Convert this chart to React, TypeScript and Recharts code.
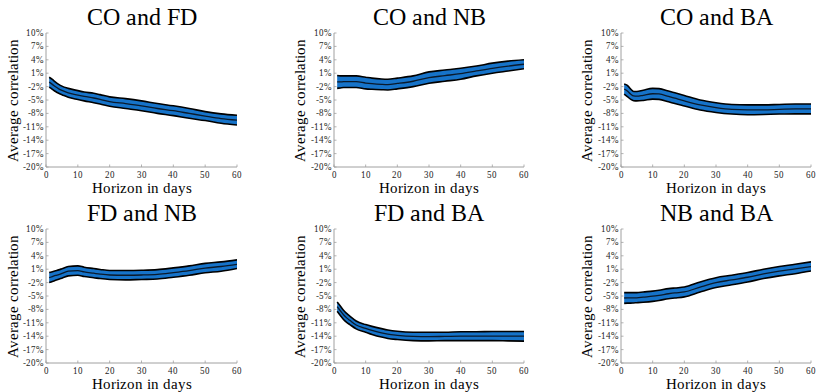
import React from "react";
import { ComposedChart, Area, Line, XAxis, YAxis } from "recharts";

const DAYS = [1, 2, 3, 4, 5, 7, 10, 12, 15, 17, 20, 25, 30, 35, 40, 45, 50, 55, 60];
const X_TICKS = [0, 10, 20, 30, 40, 50, 60];
const Y_TICKS = [-20, -17, -14, -11, -8, -5, -2, 1, 4, 7, 10];

// CO and FD
const CO_FD_UPPER = [0.1, -0.4, -1.0, -1.5, -1.9, -2.4, -2.9, -3.2, -3.5, -3.8, -4.3, -4.7, -5.2, -5.8, -6.3, -6.9, -7.6, -8.1, -8.4];
const CO_FD_MID = [-1.0, -1.5, -2.05, -2.5, -2.85, -3.4, -3.9, -4.2, -4.55, -4.85, -5.35, -5.8, -6.3, -6.9, -7.4, -8.0, -8.6, -9.15, -9.5];
const CO_FD_LOWER = [-2.1, -2.6, -3.1, -3.5, -3.8, -4.4, -4.9, -5.2, -5.6, -5.9, -6.4, -6.9, -7.4, -8.0, -8.5, -9.1, -9.6, -10.2, -10.6];

// CO and NB
const CO_NB_UPPER = [0.5, 0.4, 0.4, 0.4, 0.4, 0.4, 0.1, -0.1, -0.3, -0.35, -0.1, 0.4, 1.3, 1.7, 2.1, 2.6, 3.25, 3.7, 4.0];
const CO_NB_MID = [-0.95, -0.95, -0.9, -0.9, -0.9, -0.9, -1.2, -1.35, -1.5, -1.55, -1.3, -0.8, 0.0, 0.45, 0.9, 1.5, 2.1, 2.6, 3.0];
const CO_NB_LOWER = [-2.4, -2.3, -2.2, -2.2, -2.2, -2.2, -2.5, -2.6, -2.7, -2.75, -2.5, -2.0, -1.25, -0.8, -0.35, 0.4, 1.0, 1.5, 2.0];

// CO and BA
const CO_BA_UPPER = [-1.4, -1.7, -2.5, -3.1, -3.1, -2.8, -2.4, -2.45, -3.0, -3.4, -4.0, -5.0, -5.6, -6.0, -6.1, -6.1, -6.0, -5.9, -5.9];
const CO_BA_MID = [-2.55, -3.0, -3.65, -4.1, -4.15, -3.95, -3.6, -3.65, -4.2, -4.6, -5.2, -6.1, -6.7, -7.1, -7.2, -7.2, -7.1, -7.0, -7.0];
const CO_BA_LOWER = [-3.7, -4.25, -4.8, -5.15, -5.2, -5.1, -4.8, -4.85, -5.4, -5.8, -6.35, -7.25, -7.8, -8.15, -8.3, -8.25, -8.15, -8.1, -8.1];

// FD and NB
const FD_NB_UPPER = [0.25, 0.45, 0.65, 0.85, 1.1, 1.6, 1.75, 1.45, 1.15, 0.95, 0.7, 0.7, 0.75, 0.9, 1.3, 1.75, 2.3, 2.65, 3.1];
const FD_NB_MID = [-0.9, -0.65, -0.4, -0.2, 0.05, 0.55, 0.7, 0.4, 0.1, -0.1, -0.3, -0.35, -0.3, -0.15, 0.25, 0.7, 1.25, 1.6, 2.1];
const FD_NB_LOWER = [-2.0, -1.75, -1.5, -1.25, -1.0, -0.5, -0.35, -0.65, -0.9, -1.1, -1.3, -1.4, -1.3, -1.2, -0.8, -0.35, 0.2, 0.55, 1.15];

// FD and BA
const FD_BA_UPPER = [-6.35, -7.25, -8.2, -8.9, -9.5, -10.6, -11.4, -11.8, -12.3, -12.6, -12.9, -13.1, -13.1, -13.1, -13.0, -13.0, -12.95, -12.95, -12.95];
const FD_BA_MID = [-7.4, -8.3, -9.2, -9.9, -10.45, -11.5, -12.25, -12.7, -13.25, -13.55, -13.8, -14.05, -14.1, -14.05, -14.0, -14.0, -14.0, -14.0, -14.0];
const FD_BA_LOWER = [-8.4, -9.35, -10.25, -10.9, -11.4, -12.35, -13.1, -13.6, -14.2, -14.5, -14.75, -15.0, -15.05, -15.0, -15.0, -15.0, -15.0, -15.05, -15.1];

// NB and BA
const NB_BA_UPPER = [-4.25, -4.25, -4.25, -4.25, -4.25, -4.1, -3.9, -3.7, -3.35, -3.2, -3.0, -1.85, -0.9, -0.35, 0.25, 1.0, 1.6, 2.1, 2.65];
const NB_BA_MID = [-5.45, -5.4, -5.4, -5.4, -5.4, -5.25, -5.05, -4.85, -4.5, -4.3, -4.1, -3.0, -2.0, -1.4, -0.8, -0.05, 0.55, 1.05, 1.6];
const NB_BA_LOWER = [-6.65, -6.6, -6.6, -6.55, -6.5, -6.4, -6.2, -6.0, -5.6, -5.45, -5.2, -4.1, -3.1, -2.5, -1.85, -1.1, -0.5, 0.0, 0.6];

const PANELS = [
  { title: "CO and FD", upper: CO_FD_UPPER, mid: CO_FD_MID, lower: CO_FD_LOWER },
  { title: "CO and NB", upper: CO_NB_UPPER, mid: CO_NB_MID, lower: CO_NB_LOWER },
  { title: "CO and BA", upper: CO_BA_UPPER, mid: CO_BA_MID, lower: CO_BA_LOWER },
  { title: "FD and NB", upper: FD_NB_UPPER, mid: FD_NB_MID, lower: FD_NB_LOWER },
  { title: "FD and BA", upper: FD_BA_UPPER, mid: FD_BA_MID, lower: FD_BA_LOWER },
  { title: "NB and BA", upper: NB_BA_UPPER, mid: NB_BA_MID, lower: NB_BA_LOWER },
];

// font face alias pointing at the locally installed serif
const FONT_CSS = `
@font-face { font-family: "PlotSerif"; src: local("Liberation Serif"), local("LiberationSerif-Regular"), local("LiberationSerif"); }
.plot-text { font-family: "PlotSerif", "Liberation Serif", serif; }
`;

const AXIS = "#a0a0a0";
const TICK_TEXT = "#262626";
const BAND = "#1673c9";

const PW = 272;
const PH = 196;
const COL_X = [0, 272, 544];
const ROW_Y = [0, 196];
const PLOT_LEFT = [46, 62, 77];
const PLOT_RIGHT = [237, 252, 267];
const YLABEL_X = [13, 28, 43];
const PLOT_TOP = 33;
const PLOT_BOTTOM = 167;

const BottomTick = (props: any) => {
  const { x, y, payload } = props;
  return (
    <g>
      <line x1={x} x2={x} y1={y} y2={y - 2.5} stroke={AXIS} strokeWidth={0.8} />
      <text className="plot-text" x={x} y={y + 11} textAnchor="middle" fontSize={8.5} fill={TICK_TEXT}>
        {payload.value}
      </text>
    </g>
  );
};

const TopTick = (props: any) => {
  const { x, y } = props;
  return <line x1={x} x2={x} y1={y} y2={y + 2.5} stroke={AXIS} strokeWidth={0.8} />;
};

const LeftTick = (props: any) => {
  const { x, y, payload } = props;
  return (
    <g>
      <line x1={x} x2={x + 2.5} y1={y} y2={y} stroke={AXIS} strokeWidth={0.8} />
      <text className="plot-text" x={x - 2.5} y={y + 3} textAnchor="end" fontSize={8.5} fill={TICK_TEXT}>
        {`${payload.value}%`}
      </text>
    </g>
  );
};

const RightTick = (props: any) => {
  const { x, y } = props;
  return <line x1={x} x2={x - 2.5} y1={y} y2={y} stroke={AXIS} strokeWidth={0.8} />;
};

function Panel({ index }: { index: number }) {
  const p = PANELS[index];
  const col = index % 3;
  const row = Math.floor(index / 3);
  const left = COL_X[col];
  const top = ROW_Y[row];
  const plotL = PLOT_LEFT[col];
  const plotR = PLOT_RIGHT[col];
  const data = DAYS.map((d, i) => ({ day: d, band: [p.lower[i], p.upper[i]], mid: p.mid[i] }));

  return (
    <div style={{ position: "absolute", left, top, width: PW, height: PH }}>
      <div
        className="plot-text"
        style={{
          position: "absolute",
          left: plotL - 20,
          width: plotR - plotL + 40,
          top: 5,
          textAlign: "center",
          fontSize: 24,
          lineHeight: "24px",
          color: "#000",
          whiteSpace: "nowrap",
        }}
      >
        {p.title}
      </div>
      <div
        className="plot-text"
        style={{
          position: "absolute",
          left: YLABEL_X[col] - 80,
          top: (PLOT_TOP + PLOT_BOTTOM) / 2 - 9,
          width: 160,
          height: 18,
          lineHeight: "18px",
          textAlign: "center",
          fontSize: 15,
          color: "#000",
          transform: "rotate(-90deg)",
          whiteSpace: "nowrap",
        }}
      >
        Average correlation
      </div>
      <div
        className="plot-text"
        style={{
          position: "absolute",
          left: plotL - 20,
          width: plotR - plotL + 40,
          top: 181,
          textAlign: "center",
          fontSize: 15,
          lineHeight: "15px",
          color: "#000",
          whiteSpace: "nowrap",
        }}
      >
        Horizon in days
      </div>
      <div style={{ position: "absolute", left: 0, top: 0 }}>
        <ComposedChart
          width={PW}
          height={PH}
          data={data}
          margin={{ top: PLOT_TOP, right: PW - plotR, bottom: 0, left: 0 }}
        >
          <XAxis
            xAxisId={0}
            dataKey="day"
            type="number"
            domain={[0, 60]}
            ticks={X_TICKS}
            allowDataOverflow
            height={PH - PLOT_BOTTOM}
            tickSize={0}
            tickMargin={0}
            tick={<BottomTick />}
            stroke={AXIS}
            interval={0}
          />
          <XAxis
            xAxisId="top"
            orientation="top"
            type="number"
            domain={[0, 60]}
            ticks={X_TICKS}
            allowDataOverflow
            height={0}
            tickSize={0}
            tickMargin={0}
            tick={<TopTick />}
            stroke={AXIS}
            interval={0}
          />
          <YAxis
            yAxisId={0}
            type="number"
            domain={[-20, 10]}
            ticks={Y_TICKS}
            allowDataOverflow
            width={plotL}
            tickSize={0}
            tickMargin={0}
            tick={<LeftTick />}
            stroke={AXIS}
            interval={0}
          />
          <YAxis
            yAxisId="right"
            orientation="right"
            type="number"
            domain={[-20, 10]}
            ticks={Y_TICKS}
            allowDataOverflow
            width={0}
            tickSize={0}
            tickMargin={0}
            tick={<RightTick />}
            stroke={AXIS}
            interval={0}
          />
          <Area
            dataKey="band"
            type="monotone"
            fill={BAND}
            fillOpacity={1}
            stroke="#000"
            strokeWidth={1.6}
            isAnimationActive={false}
          />
          <Line
            dataKey="mid"
            type="monotone"
            stroke="#0a1a2c"
            strokeWidth={1.3}
            dot={false}
            isAnimationActive={false}
          />
        </ComposedChart>
      </div>
    </div>
  );
}

export default function App() {
  return (
    <div
      className="plot-text"
      style={{
        position: "absolute",
        left: 0,
        top: 0,
        width: 816,
        height: 392,
        background: "#fff",
        overflow: "hidden",
      }}
    >
      <style>{FONT_CSS}</style>
      {PANELS.map((_, i) => (
        <Panel key={i} index={i} />
      ))}
    </div>
  );
}
